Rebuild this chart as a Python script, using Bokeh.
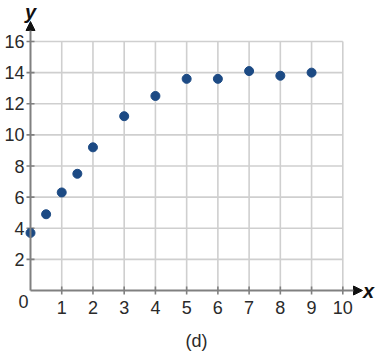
import math
from bokeh.plotting import figure
from bokeh.models import Range1d, Arrow, NormalHead, Label
from bokeh.core.properties import value
from bokeh.embed import file_html
from bokeh.resources import INLINE

# data
x_vals = [0, 0.5, 1, 1.5, 2, 3, 4, 5, 6, 7, 8, 9]
y_vals = [3.7, 4.9, 6.3, 7.5, 9.2, 11.2, 12.5, 13.6, 13.6, 14.1, 13.8, 14.0]
x_ticks = [1, 2, 3, 4, 5, 6, 7, 8, 9, 10]
y_ticks = [2, 4, 6, 8, 10, 12, 14, 16]
x_tick_labels = [str(t) for t in x_ticks]
y_tick_labels = [str(t) for t in y_ticks]
x_max, y_max = 10, 16

W, H = 377, 354
ox, oy = 30.0, 290.0          # pixel position of origin
sx = (342.3 - ox) / 10.0      # pixels per x unit
sy = (oy - 41.0) / 16.0       # pixels per y unit

def dx(px):
    return (px - ox) / sx

def dy(py):
    return (oy - py) / sy

p = figure(width=W, height=H, output_backend="svg", toolbar_location=None,
           x_range=Range1d(dx(0), dx(W)), y_range=Range1d(dy(H), dy(0)),
           min_border=0, x_axis_type=None, y_axis_type=None)
p.grid.visible = False
p.outline_line_color = None
p.background_fill_color = "white"
p.border_fill_color = "white"

grid_col = "#cfcfcf"
axis_col = "#808080"
font = value("Liberation Sans")
fs = value("18px")
txt_col = "#2a2a2a"

# grid
p.segment(x0=x_ticks, y0=[0] * len(x_ticks), x1=x_ticks, y1=[y_max] * len(x_ticks),
          line_color=grid_col, line_width=1.6)
p.segment(x0=[0] * len(y_ticks), y0=y_ticks, x1=[x_max] * len(y_ticks), y1=y_ticks,
          line_color=grid_col, line_width=1.6)

# axes with arrows
p.add_layout(Arrow(x_start=0, y_start=0, x_end=dx(362), y_end=0,
                   line_color=axis_col, line_width=2,
                   end=NormalHead(size=9, fill_color="#111111", line_color="#111111")))
p.add_layout(Arrow(x_start=0, y_start=0, x_end=0, y_end=dy(21),
                   line_color=axis_col, line_width=2,
                   end=NormalHead(size=9, fill_color="#111111", line_color="#111111")))

# tick marks
p.scatter(x=x_ticks, y=[0] * len(x_ticks), marker="dash", size=8, angle=math.pi / 2,
          line_color=axis_col, line_width=1.6)
p.scatter(x=[0] * len(y_ticks), y=y_ticks, marker="dash", size=8,
          line_color=axis_col, line_width=1.6)

# tick labels
p.text(x=x_ticks, y=[0] * len(x_ticks), text=x_tick_labels, text_font=font,
       text_font_size=fs, text_color=txt_col, text_align="center",
       text_baseline="middle", y_offset=17)
p.text(x=[0] * len(y_ticks), y=y_ticks, text=y_tick_labels, text_font=font,
       text_font_size=fs, text_color=txt_col, text_align="right",
       text_baseline="middle", x_offset=-6)
p.text(x=[0], y=[0], text=["0"], text_font=font, text_font_size=fs,
       text_color=txt_col, text_align="center", text_baseline="middle",
       x_offset=-7, y_offset=11)

# axis names
p.add_layout(Label(x=0, y=dy(11), text="y", text_font="Liberation Sans",
                   text_font_size="20px", text_font_style="bold italic",
                   text_color="#111111", text_align="center", text_baseline="middle"))
p.add_layout(Label(x=dx(368), y=0, text="x", text_font="Liberation Sans",
                   text_font_size="20px", text_font_style="bold italic",
                   text_color="#111111", text_align="center", text_baseline="middle"))
p.add_layout(Label(x=dx(196), y=dy(340), text="(d)", text_font="Liberation Sans",
                   text_font_size="18px", text_color=txt_col,
                   text_align="center", text_baseline="middle"))

# data points
p.scatter(x=x_vals, y=y_vals, size=9, fill_color="#1c4a84", line_color="#1c4a84")

open("out.html", "w").write(file_html(p, INLINE))
